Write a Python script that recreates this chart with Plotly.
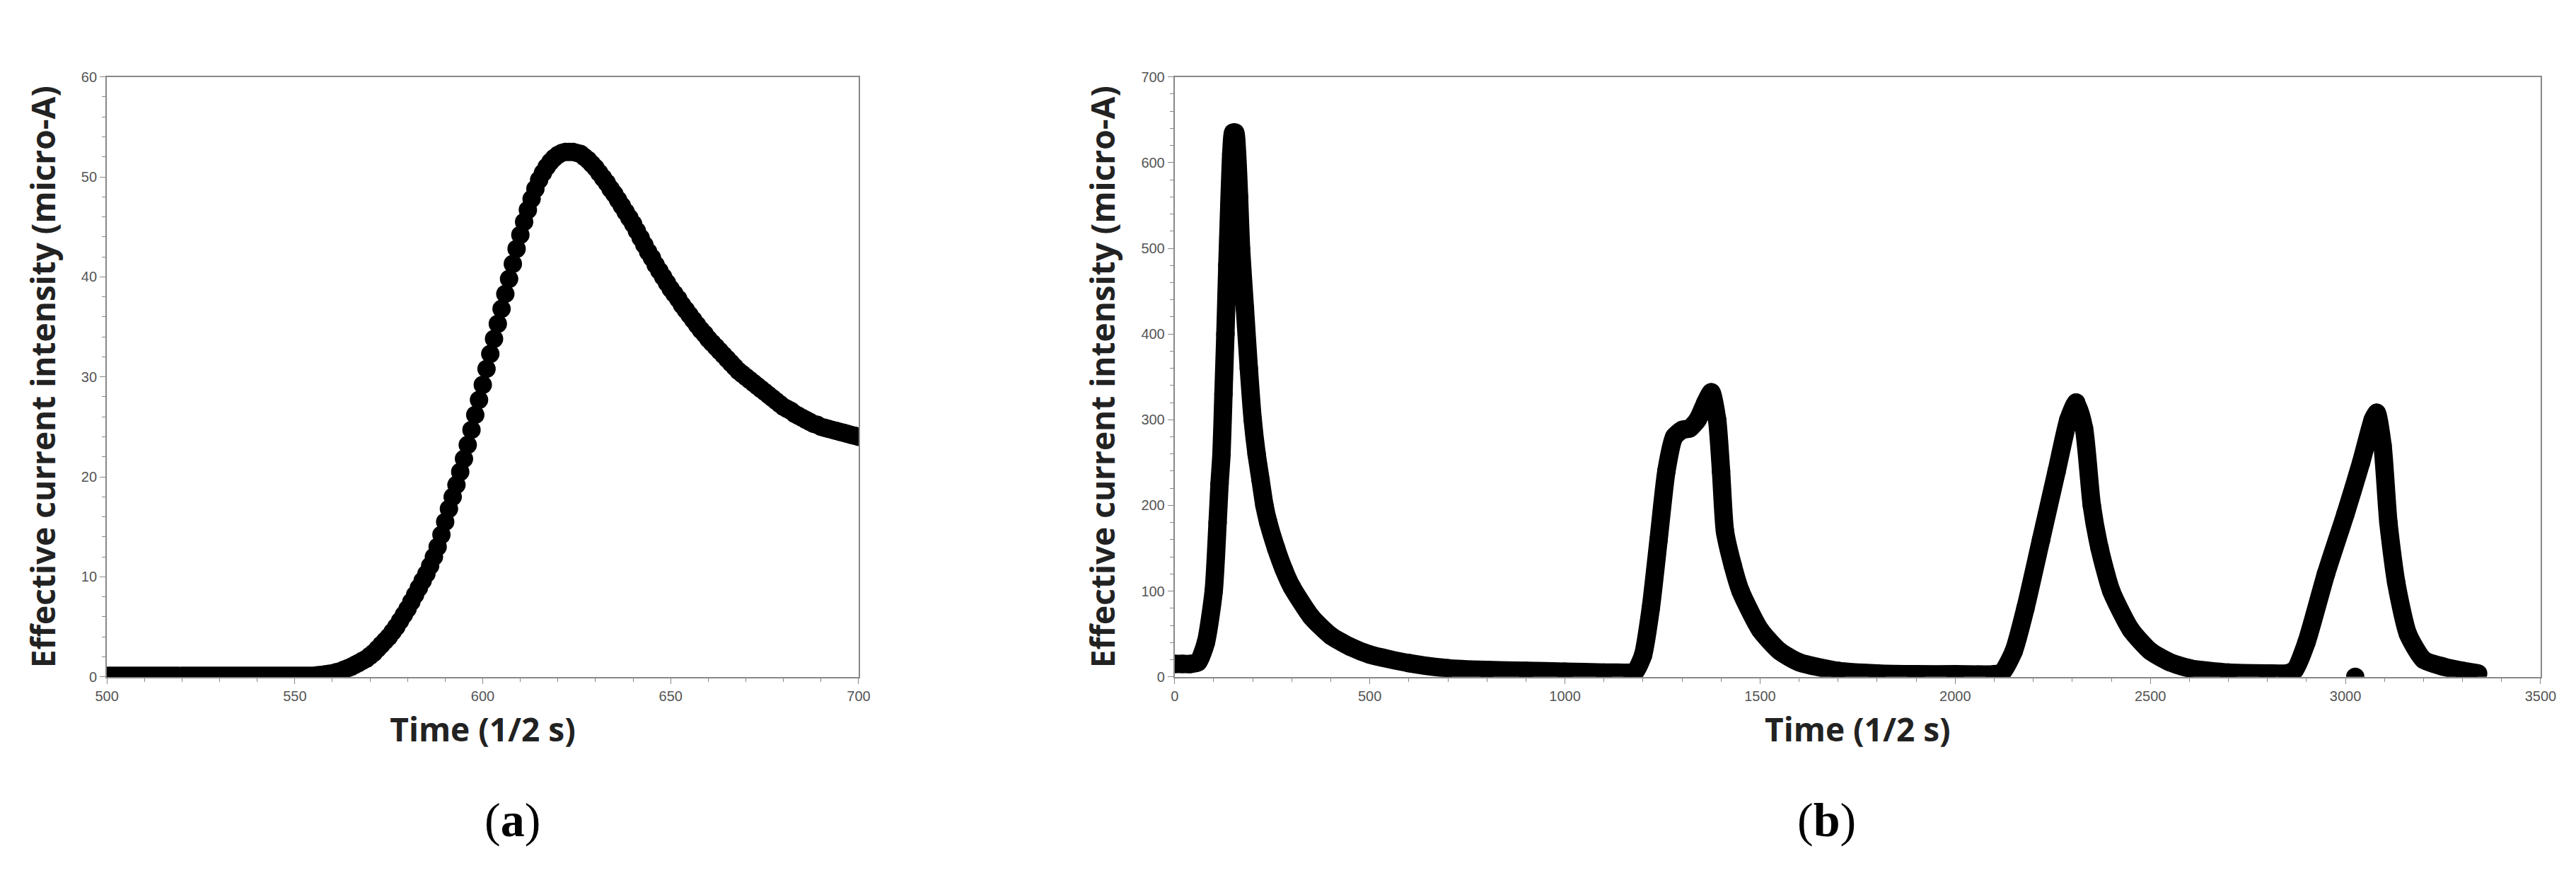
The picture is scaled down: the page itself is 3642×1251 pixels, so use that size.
import plotly.graph_objects as go
from plotly.subplots import make_subplots

# Panel (a)
a_time = list(range(500, 701))
a_current = [0.1]*56 + [
0.15,0.2,0.25,0.3,0.35,0.45,0.55,
0.7,0.85,1.0,1.2,1.4,1.6,1.8,2.1,2.4,2.8,3.2,3.6,4.0,4.5,5.0,5.6,6.2,6.8,7.5,8.2,8.9,9.6,10.3,
11.1,12.0,13.0,14.2,15.5,16.8,18.0,19.2,20.5,21.8,23.2,24.7,26.2,27.7,29.2,30.8,32.3,33.8,35.3,36.8,
38.3,39.8,41.3,42.8,44.2,45.5,46.7,47.8,48.8,49.7,50.4,51.0,51.5,51.9,52.2,52.4,52.5,52.5,52.5,52.4,
52.3,52.0,51.7,51.3,50.9,50.4,49.9,49.4,48.8,48.3,47.7,47.1,46.5,45.9,45.3,44.6,43.9,43.2,42.5,41.9,
41.2,40.6,40.0,39.4,38.8,38.3,37.8,37.2,36.7,36.2,35.7,35.2,34.7,34.3,33.8,33.4,33.0,32.6,32.2,31.8,
31.4,31.0,30.6,30.3,30.0,29.7,29.4,29.1,28.8,28.5,28.2,27.9,27.6,27.3,27.0,26.8,26.6,26.3,26.1,25.9,
25.7,25.5,25.3,25.2,25.0,24.9,24.8,24.7,24.6,24.5,24.4,24.3,24.2,24.1,24.0]

# Panel (b)
b_time = [0,20,40,60,80,100,110,115,120,125,130,135,140,145,150,155,160,165,170,180,190,200,210,220,230,240,260,280,300,
          350,400,450,500,600,700,800,900,1000,1100,1170,
          1180,1200,1220,1240,1260,1280,1300,1320,1340,1360,1375,1390,1400,1410,1430,1450,1500,1550,1600,1700,1800,1900,2000,2100,
          2120,2150,2180,2220,2260,2290,2310,2330,2350,2370,2400,2450,2500,2550,2600,2700,2800,2850,
          2870,2900,2950,3000,3040,3070,3080,3095,3110,3130,3160,3200,3250,3300,3340]
b_current = [15,15,15,17,40,100,180,225,260,330,400,480,550,610,635,635,610,560,500,430,360,300,260,230,200,180,150,125,105,
             70,48,35,26,16,10,8,7,6,5,5,
             6,25,80,160,240,280,288,290,300,320,332,300,240,170,130,100,55,30,17,7,4,3,3,3,
             5,30,80,160,240,300,320,290,200,150,100,55,30,17,10,5,4,4,
             8,40,120,190,250,300,308,270,180,110,50,20,12,7,4]
b_outlier_time = [3025]
b_outlier_current = [0]

MS = 26
fig = make_subplots(rows=1, cols=2)
fig.add_trace(go.Scatter(x=a_time, y=a_current, mode="markers",
                         marker=dict(color="black", size=MS), showlegend=False), 1, 1)
fig.add_trace(go.Scatter(x=b_time, y=b_current, mode="lines+markers",
                         line=dict(color="black", width=MS, shape="spline", smoothing=0.6),
                         marker=dict(color="black", size=MS), showlegend=False), 1, 2)
fig.add_trace(go.Scatter(x=b_outlier_time, y=b_outlier_current, mode="markers",
                         marker=dict(color="black", size=MS), showlegend=False), 1, 2)

tickfont = dict(family="Liberation Sans", size=20, color="#555555")
titlefont = dict(family="Open Sans", size=46, color="#222222", weight="bold")
common = dict(showline=True, linecolor="#888888", linewidth=2, mirror=True, ticks="outside",
              ticklen=8, tickcolor="#888888", showgrid=False, zeroline=False, tickfont=tickfont,
              minor=dict(ticks="outside", ticklen=5, tickcolor="#888888"))

fig.update_layout(
    width=3642, height=1251, plot_bgcolor="white", paper_bgcolor="white",
    margin=dict(l=0, r=0, t=0, b=0),
    xaxis=dict(domain=[0.035, 0.330], range=[500, 700], dtick=50,
               title=dict(text="Time (1/2 s)", font=titlefont, standoff=22), **common),
    yaxis=dict(domain=[0.237, 0.927], range=[0, 60], dtick=10,
               title=dict(text="Effective current intensity (micro-A)", font=titlefont, standoff=22), **common),
    xaxis2=dict(domain=[0.454, 0.990], range=[0, 3500], dtick=500,
                title=dict(text="Time (1/2 s)", font=titlefont, standoff=22), **common),
    yaxis2=dict(domain=[0.237, 0.927], range=[0, 700], dtick=100,
                title=dict(text="Effective current intensity (micro-A)", font=titlefont, standoff=22), **common),
)
fig.add_annotation(text="(<b>a</b>)", x=0.1825, y=0.04, xref="paper", yref="paper", showarrow=False,
                   font=dict(family="Liberation Serif", size=68, color="black"))
fig.add_annotation(text="(<b>b</b>)", x=0.722, y=0.04, xref="paper", yref="paper", showarrow=False,
                   font=dict(family="Liberation Serif", size=68, color="black"))

fig.write_html("out.html")
